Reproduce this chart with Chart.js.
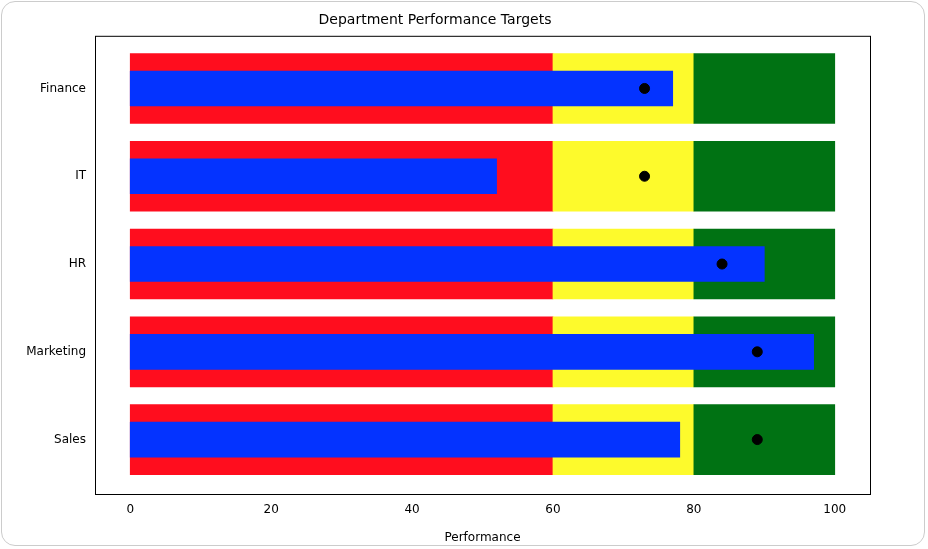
<!DOCTYPE html>
<html><head><meta charset="utf-8">
<script src="https://cdn.jsdelivr.net/npm/chart.js@4"></script>
<style>
html,body{margin:0;padding:0;background:#fff;}
#wrap{position:absolute;left:1px;top:1px;width:924px;height:545px;border:1px solid #ccc;border-radius:14px;box-sizing:border-box;}
#c{position:absolute;left:0;top:0;}
</style></head><body>
<div id="wrap"></div>
<canvas id="c" width="928" height="549"></canvas>
<script>
const categories=['Finance','IT','HR','Marketing','Sales'];
const performance=[77,52,90,97,78];
const targets=[73,73,84,89,89];
const poorRange=[60,60,60,60,60];
const okRange=[80,80,80,80,80];
const goodRange=[100,100,100,100,100];
const xTicks=[0,20,40,60,80,100];

const frame={id:'frame',afterDraw(ch){const a=ch.chartArea,c=ch.ctx;c.save();c.strokeStyle='#000';c.lineWidth=1;c.strokeRect(a.left+0.5,a.top+0.5,a.right-a.left,a.bottom-a.top);c.restore();}};
const font={family:'DejaVu Sans',size:12};
const idx=categories.map((_,i)=>i);
new Chart(document.getElementById('c'),{
 type:'bar',
 data:{datasets:[
  {data:idx.map(i=>({x:[0,poorRange[i]],y:i})),backgroundColor:'#ff0d1e',barThickness:70,grouped:false,order:5},
  {data:idx.map(i=>({x:[poorRange[i],okRange[i]],y:i})),backgroundColor:'#fdfa2c',barThickness:70,grouped:false,order:4},
  {data:idx.map(i=>({x:[okRange[i],goodRange[i]],y:i})),backgroundColor:'#007213',barThickness:70,grouped:false,order:3},
  {data:idx.map(i=>({x:[0,performance[i]],y:i})),backgroundColor:'#0433ff',barThickness:35,grouped:false,order:2},
  {type:'line',indexAxis:'y',showLine:false,data:idx.map(i=>({x:targets[i],y:i})),pointRadius:5,pointBackgroundColor:'#000',pointBorderColor:'#000',order:1}
 ]},
 options:{indexAxis:'y',responsive:false,animation:false,
  layout:{padding:{left:0,right:58,top:0,bottom:0}},
  plugins:{legend:{display:false},tooltip:{enabled:false},
   title:{display:true,text:'Department Performance Targets',color:'#000',font:{family:'DejaVu Sans',size:14,weight:'normal'},padding:{top:12,bottom:7}}},
  scales:{
   x:{type:'linear',min:-5,max:105,afterBuildTicks(s){s.ticks=xTicks.map(v=>({value:v}));},
    grid:{display:false,drawTicks:true,tickLength:5,tickColor:'#000'},border:{display:false},
    ticks:{color:'#000',font,padding:4},
    title:{display:true,text:'Performance',color:'#000',font,padding:{top:0}},
    afterFit(s){s.height=55;}},
   y:{type:'linear',reverse:true,min:-0.6,max:4.62,offset:false,
    afterBuildTicks(s){s.ticks=idx.map(v=>({value:v}));},
    grid:{display:false,tickLength:5,tickColor:'#000'},border:{display:false},
    ticks:{color:'#000',font,padding:4,callback:v=>categories[v]},afterFit(s){s.width=95;}}
  }},
 plugins:[frame]
});
</script></body></html>
